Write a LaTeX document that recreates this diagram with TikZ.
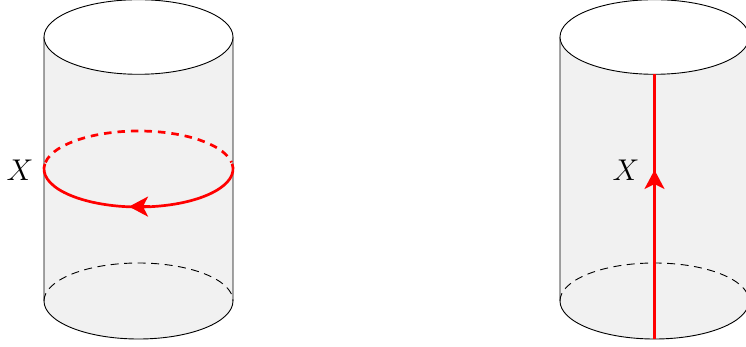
\RequirePackage{fix-cm}
\documentclass[tikz,border=0pt]{standalone}
\usetikzlibrary{arrows.meta}
\definecolor{cylfill}{HTML}{F1F1F1}
\DeclareMathSizes{30}{30}{21}{15}
\tikzset{
  cylline/.style={draw=black,line width=0.9pt},
  redline/.style={draw=red,line width=2.7pt},
  redtip/.style={-{Stealth[length=19pt,width=20pt,inset=5pt]},draw=red,fill=red,line width=2.7pt},
  lab/.style={inner sep=0pt,font=\fontsize{30}{32}\selectfont},
}
\newcommand{\mycyl}[1]{%
  \fill[cylfill] (#1-94.5,37) -- (#1-94.5,301) arc[start angle=180,end angle=360,x radius=94.5,y radius=-38] -- (#1+94.5,37) -- cycle;
  \draw[cylline] (#1-94.5,37) -- (#1-94.5,301) arc[start angle=180,end angle=360,x radius=94.5,y radius=-38] -- (#1+94.5,37);
  \draw[cylline,fill=white] (#1,37) ellipse[x radius=94.5,y radius=37.3];
  \draw[cylline,dash pattern=on 8pt off 5.5pt] (#1-94.5,301) arc[start angle=180,end angle=0,x radius=94.5,y radius=-38];
}
\begin{document}
\begin{tikzpicture}[x=1pt,y=-1pt]
\useasboundingbox (0,0) rectangle (746,347);
\clip (0,0) rectangle (746,347);
\mycyl{138.5}
\mycyl{654.5}
% left loop
\draw[redline] (138.5,169) ++(-8:94.5 and 38) arc[start angle=-8,end angle=188,x radius=94.5,y radius=38];
\draw[redline,dash pattern=on 7.5pt off 6pt] (138.5,169) ++(190:94.5 and 38) arc[start angle=190,end angle=350,x radius=94.5,y radius=38];
\coordinate (la) at (150,206.6);
\coordinate (lb) at (129,206.6);
\draw[redtip] (la) -- (lb);
\node[lab] (x1) at (20,170) {$X$};
% right line
\coordinate (ra) at (654.5,74);
\coordinate (rb) at (654.5,339);
\coordinate (rc) at (654.5,170);
\draw[redline] (rb) -- (ra);
\draw[redtip] (654.5,195) -- (rc);
\node[lab] (x2) at (626,170) {$X$};
\end{tikzpicture}
\end{document}
